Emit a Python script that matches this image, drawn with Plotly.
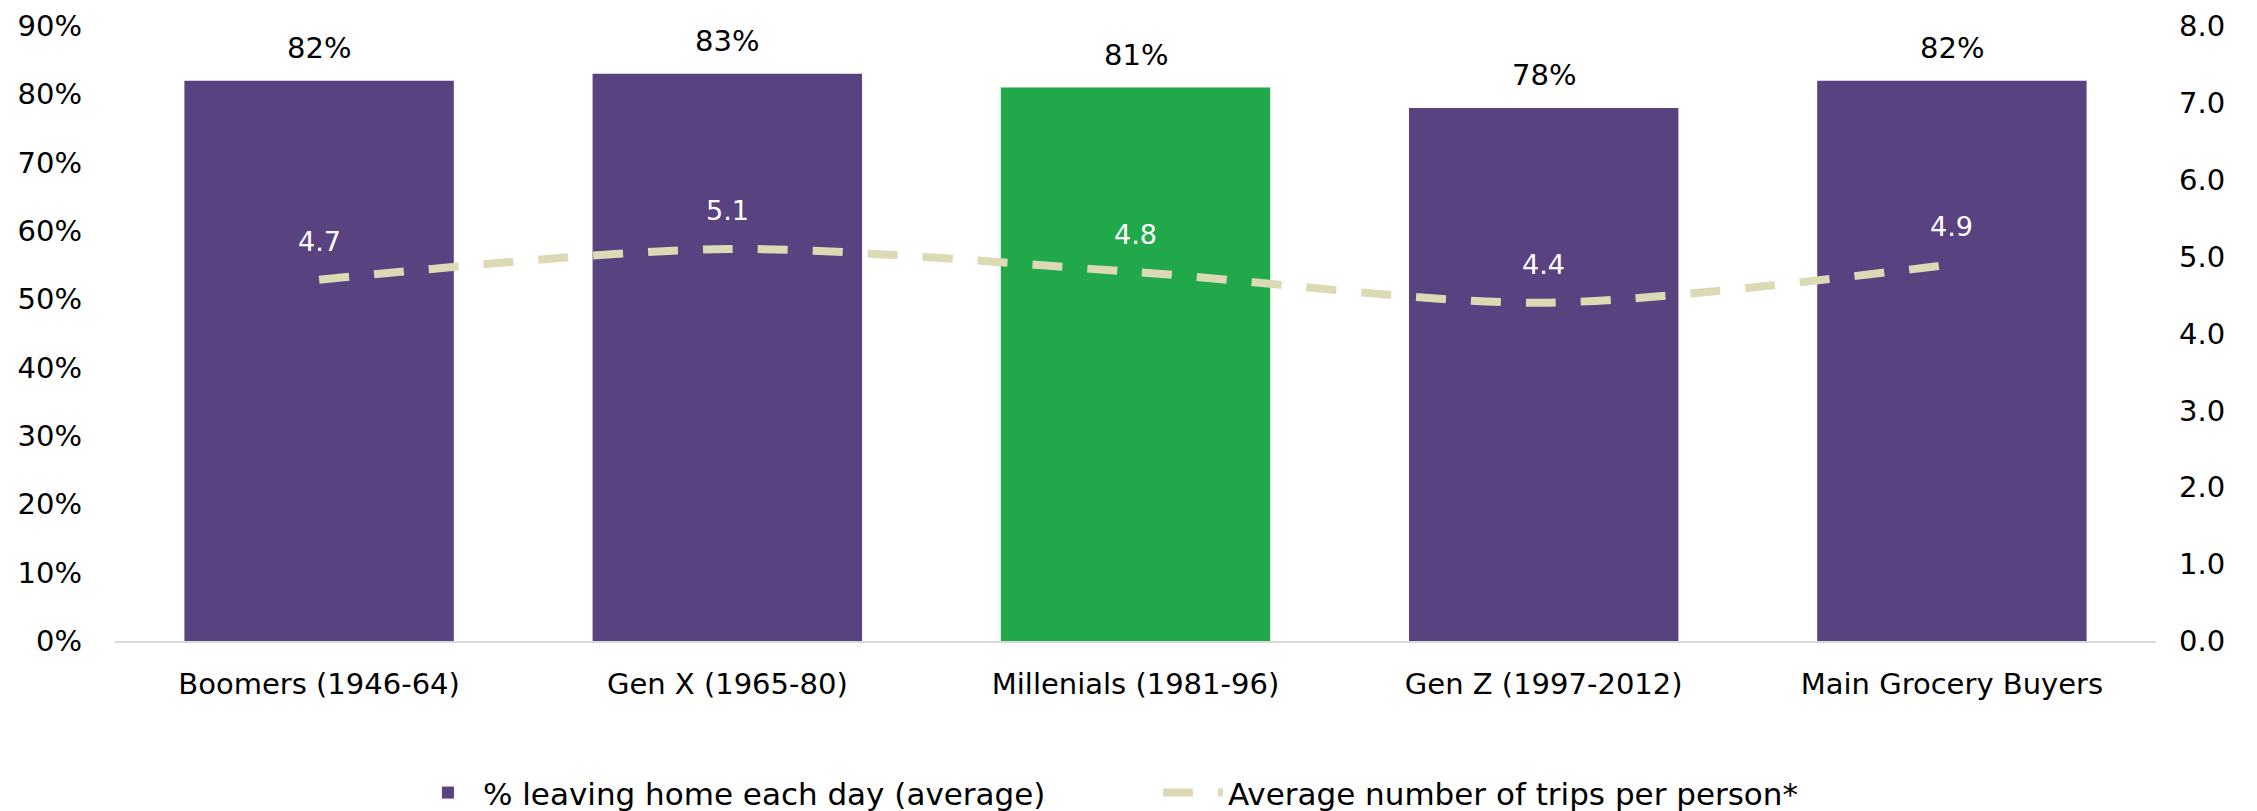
import plotly.graph_objects as go

# Generations compared
categories = ["Boomers (1946-64)", "Gen X (1965-80)", "Millenials (1981-96)",
              "Gen Z (1997-2012)", "Main Grocery Buyers"]
pct_leaving_home = [82, 83, 81, 78, 82]          # % leaving home each day (average)
avg_trips = [4.7, 5.1, 4.8, 4.4, 4.9]            # average number of trips per person
highlight = "Millenials (1981-96)"

PURPLE = "#58427F"
GREEN = "#21A84A"
LINE = "#DCD9B5"
FONT = "'DejaVu Sans', Lato, sans-serif"
FS = 29

bar_colors = [GREEN if c == highlight else PURPLE for c in categories]

fig = go.Figure()
fig.add_trace(go.Bar(
    x=categories, y=pct_leaving_home, name="% leaving home each day (average)",
    marker=dict(color=bar_colors, line=dict(width=0)),
    yaxis="y",
))
fig.add_trace(go.Scatter(
    x=categories, y=avg_trips, name="Average number of trips per person*",
    mode="lines", line=dict(color=LINE, width=8, dash="30px,25px", shape="spline", smoothing=0.8),
    yaxis="y2",
))

# Value labels above bars
for c, v in zip(categories, pct_leaving_home):
    fig.add_annotation(x=c, y=v, yref="y", text=f"{v}%", showarrow=False,
                       yanchor="middle", yshift=33,
                       font=dict(size=FS, color="#000000", family=FONT))
# Value labels above the line
for c, v in zip(categories, avg_trips):
    fig.add_annotation(x=c, y=v, yref="y2", text=f"{v:.1f}", showarrow=False,
                       yanchor="middle", yshift=38,
                       font=dict(size=27, color="#FFFFFF", family=FONT))

fig.update_layout(
    width=2257, height=811,
    margin=dict(l=115, r=101, t=26, b=170, autoexpand=False),
    paper_bgcolor="white", plot_bgcolor="white",
    font=dict(family=FONT, size=FS, color="#000000"),
    bargap=0.34,
    showlegend=True,
    legend=dict(orientation="h", x=0.511, xanchor="center", y=-0.247, yanchor="middle",
                font=dict(size=31, family=FONT), itemwidth=60, traceorder="normal",
                entrywidth=670),
    xaxis=dict(showgrid=False, showline=True, linecolor="#D9D9D9", linewidth=2,
               ticks="", ticklabelstandoff=16, tickfont=dict(size=FS)),
    yaxis=dict(range=[0, 90], dtick=10, ticksuffix="%", showgrid=False, zeroline=False,
               showline=False, ticks="", ticklabelstandoff=32, tickfont=dict(size=FS)),
    yaxis2=dict(range=[0, 8], dtick=1, tickformat=".1f", overlaying="y", side="right",
                showgrid=False, zeroline=False, showline=False, ticks="",
                ticklabelstandoff=22, tickfont=dict(size=FS)),
)

fig.write_html("out.html")
